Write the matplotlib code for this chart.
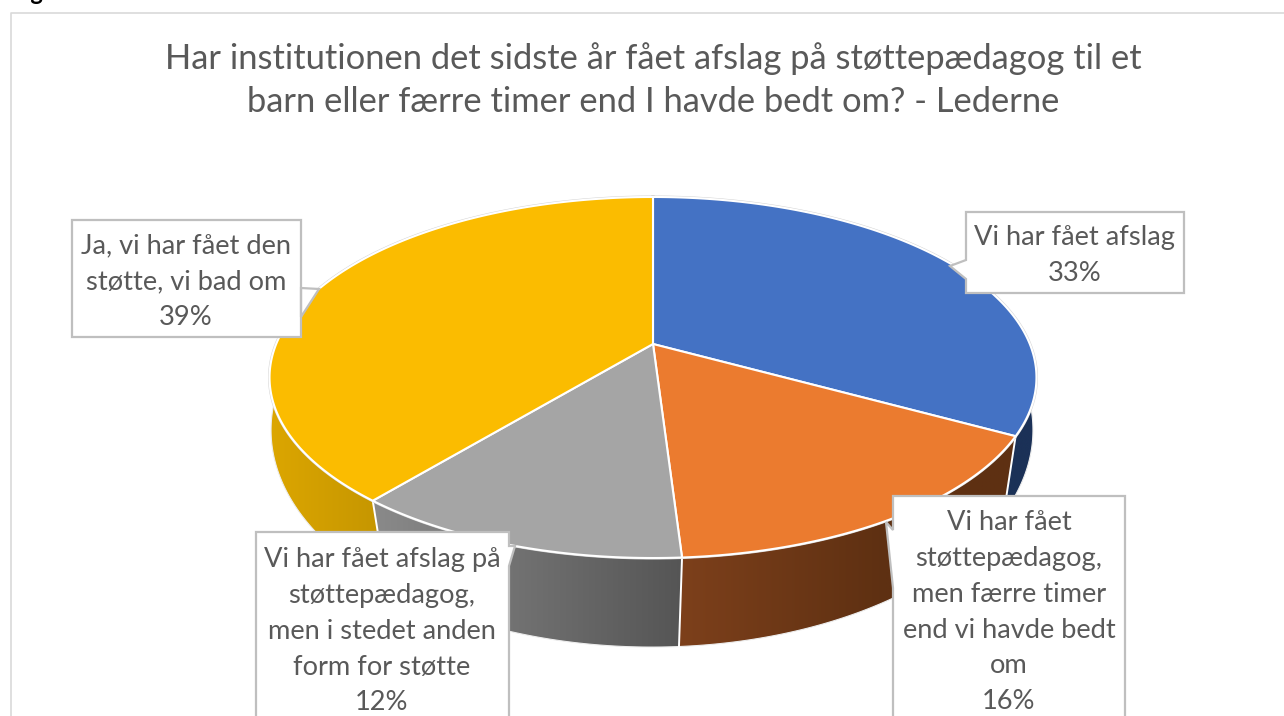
import numpy as np
import matplotlib
matplotlib.use('Agg')
from matplotlib import pyplot as plt
from matplotlib.patches import Polygon

plt.rcParams['font.family'] = ['Lato', 'DejaVu Sans']

title = 'Har institutionen det sidste år fået afslag på støttepædagog til et\nbarn eller færre timer end I havde bedt om? - Lederne'
labels = ['Vi har fået afslag',
          'Vi har fået\nstøttepædagog,\nmen færre timer\nend vi havde bedt\nom',
          'Vi har fået afslag på\nstøttepædagog,\nmen i stedet anden\nform for støtte',
          'Ja, vi har fået den\nstøtte, vi bad om']
values = [33, 16, 12, 39]
top_colors = ['#4472C4', '#EB7B2F', '#A5A5A5', '#FBBC00']
side_left = ['#1B3157', '#7D401B', '#8A8A8A', '#DCA600']
side_right = ['#1B3157', '#5E3012', '#555555', '#C49500']

# perspective of the upper and lower rim, in pixels: hub x, hub y, a, b, k
upper = (653, 344, 174.3, 376.8, 0.1856)
lower = (652, 404, 213.9, 378.2, 0.12)
orange_grad_end = 885

# label boxes: left, top, right, bottom, pointer (base1, tip, base2), text x, first line y
boxes = [
    (966, 212, 1184, 293, [(966, 279), (950, 266), (966, 260)], 1075, 238),
    (893, 496, 1125, 730, [(893, 588), (886, 522), (893, 530)], 1009, 523),
    (256, 532, 509, 730, [(509, 566), (515, 546), (509, 546)], 382, 560),
    (72, 220, 301, 337, [(301, 288), (319, 289), (301, 317)], 186, 246),
]
line_step = 35.7


def rim(theta, p):
	# theta in radians, clockwise from the far side of the disc
	hx, hy, a, b, k = p
	w = 1 + k * np.cos(theta)
	return hx + b * np.sin(theta) / w, hy - a * np.cos(theta) / w


fig = plt.figure(figsize=(12.84, 7.16), dpi=100)
ax = fig.add_axes([0, 0, 1, 1])
ax.set_xlim(0, 1284)
ax.set_ylim(716, 0)
ax.axis('off')

# chart frame
ax.plot([10.5, 10.5, 1284], [716, 12.5, 12.5], color='#D9D9D9', lw=1.2, zorder=1)
ax.text(11, 0.5, 'Figur 6', fontsize=17, fontweight='bold', color='black', va='baseline', clip_on=False)

edges = np.deg2rad(np.cumsum([0] + values) * 3.6)

# side walls first, the top disc covers whatever is hidden
for i in range(len(values)):
	t0 = max(edges[i], np.pi / 2)
	t1 = min(edges[i + 1], np.pi * 1.5)
	if t1 <= t0:
		continue
	t = np.linspace(t0, t1, 120)
	ux, uy = rim(t, upper)
	lx, ly = rim(t, lower)
	pts = np.column_stack([np.r_[ux, lx[::-1]], np.r_[uy, ly[::-1]]])
	poly = Polygon(pts, closed=True, fc='none', ec='none', zorder=2)
	ax.add_patch(poly)
	x0, x1 = pts[:, 0].min(), pts[:, 0].max()
	c0 = np.array(matplotlib.colors.to_rgb(side_left[i]))
	c1 = np.array(matplotlib.colors.to_rgb(side_right[i]))
	xs = np.linspace(x0, x1, 256)
	end = orange_grad_end if i == 1 else x1
	f = np.clip((xs - x0) / (end - x0), 0, 1)[:, np.newaxis]
	grad = (c0 + (c1 - c0) * f)[np.newaxis, :, :]
	im = ax.imshow(grad, extent=[x0, x1, pts[:, 1].max(), pts[:, 1].min()], aspect='auto', zorder=2)
	im.set_clip_path(poly)
	ax.plot(lx, ly, color='#EDEDED', lw=0.8, zorder=2.5)

ax.set_xlim(0, 1284)
ax.set_ylim(716, 0)

# white seams between the walls
for e in edges:
	if np.pi / 2 < e < np.pi * 1.5:
		ux, uy = rim(e, upper)
		lx, ly = rim(e, lower)
		ax.plot([ux, lx], [uy, ly], color='white', lw=1.4, zorder=2.6)

# faint halo round the disc
t = np.linspace(0, 2 * np.pi, 720)
ax.plot(*rim(t, upper), color='#D4D4D4', lw=2.2, zorder=2.9)

# top of the pie
for i in range(len(values)):
	t = np.linspace(edges[i], edges[i + 1], 240)
	ux, uy = rim(t, upper)
	pts = np.column_stack([np.r_[upper[0], ux], np.r_[upper[1], uy]])
	ax.add_patch(Polygon(pts, closed=True, fc=top_colors[i], ec='white', lw=1.5, joinstyle='round', zorder=3))

# callouts
for i, (l, t, r, btm, ptr, tx, ty) in enumerate(boxes):
	if ptr[0][0] == l:
		pts = [(l, t)] + ptr[::-1] + [(l, btm), (r, btm), (r, t)]
	else:
		pts = [(l, t), (r, t)] + ptr[::-1] + [(r, btm), (l, btm)]
	ax.add_patch(Polygon(pts, closed=True, fc='white', ec='#BFBFBF', lw=1.6, zorder=4))
	lines = labels[i].split('\n') + ['%d%%' % values[i]]
	for n, line in enumerate(lines):
		ax.text(tx, ty + n * line_step, line, fontsize=19.6, color='#595959', ha='center', va='center', zorder=5)

for n, line in enumerate(title.split('\n')):
	ax.text(653, 59 + n * 43, line, fontsize=24.85, color='#595959', ha='center', va='center', zorder=5)

plt.savefig('out.png', dpi=100)
